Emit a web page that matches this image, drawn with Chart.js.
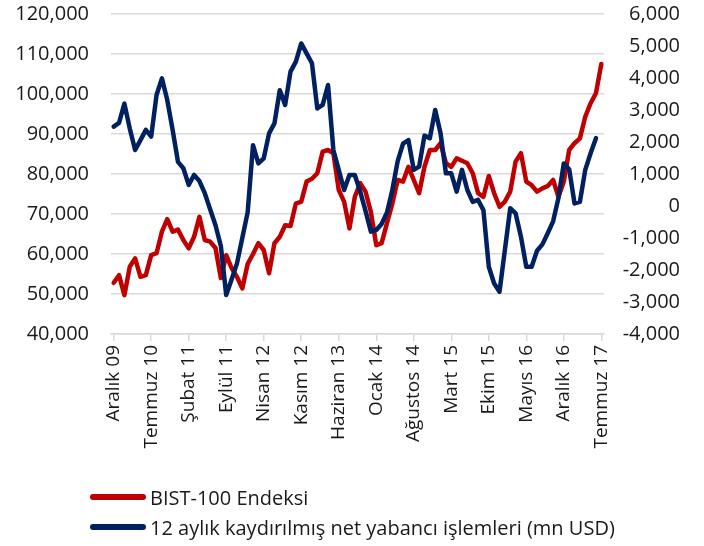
<!DOCTYPE html>
<html>
<head>
<meta charset="utf-8">
<script src="https://cdn.jsdelivr.net/npm/chart.js@4.4.1/dist/chart.umd.min.js"></script>
<style>
  html, body { margin: 0; padding: 0; background: #fff; }
  #wrap { position: relative; width: 704px; height: 546px; }
  #legend { position: absolute; left: 90px; top: 482px; font-family: 'Open Sans', sans-serif; font-size: 20px; color: #1a1a1a; }
  .item { display: flex; align-items: center; height: 30px; white-space: nowrap; }
  .swatch { width: 56px; height: 6px; border-radius: 3px; margin-right: 4px; }
</style>
</head>
<body>
<div id="wrap">
  <canvas id="chart" width="704" height="546"></canvas>
  <div id="legend"></div>
</div>
<script>
// Months, Dec 2009 - Jul 2017
const months = [
    'Aralık 09',
    'Ocak 10', 'Şubat 10', 'Mart 10', 'Nisan 10', 'Mayıs 10', 'Haziran 10', 'Temmuz 10', 'Ağustos 10', 'Eylül 10', 'Ekim 10', 'Kasım 10', 'Aralık 10',
    'Ocak 11', 'Şubat 11', 'Mart 11', 'Nisan 11', 'Mayıs 11', 'Haziran 11', 'Temmuz 11', 'Ağustos 11', 'Eylül 11', 'Ekim 11', 'Kasım 11', 'Aralık 11',
    'Ocak 12', 'Şubat 12', 'Mart 12', 'Nisan 12', 'Mayıs 12', 'Haziran 12', 'Temmuz 12', 'Ağustos 12', 'Eylül 12', 'Ekim 12', 'Kasım 12', 'Aralık 12',
    'Ocak 13', 'Şubat 13', 'Mart 13', 'Nisan 13', 'Mayıs 13', 'Haziran 13', 'Temmuz 13', 'Ağustos 13', 'Eylül 13', 'Ekim 13', 'Kasım 13', 'Aralık 13',
    'Ocak 14', 'Şubat 14', 'Mart 14', 'Nisan 14', 'Mayıs 14', 'Haziran 14', 'Temmuz 14', 'Ağustos 14', 'Eylül 14', 'Ekim 14', 'Kasım 14', 'Aralık 14',
    'Ocak 15', 'Şubat 15', 'Mart 15', 'Nisan 15', 'Mayıs 15', 'Haziran 15', 'Temmuz 15', 'Ağustos 15', 'Eylül 15', 'Ekim 15', 'Kasım 15', 'Aralık 15',
    'Ocak 16', 'Şubat 16', 'Mart 16', 'Nisan 16', 'Mayıs 16', 'Haziran 16', 'Temmuz 16', 'Ağustos 16', 'Eylül 16', 'Ekim 16', 'Kasım 16', 'Aralık 16',
    'Ocak 17', 'Şubat 17', 'Mart 17', 'Nisan 17', 'Mayıs 17', 'Haziran 17', 'Temmuz 17'
];

// BIST-100 index (left axis)
const bist100 = [
    52800, 54700, 49700, 56800, 58900, 54300, 54700, 59700, 60200, 65600,
    68700, 65600, 66100, 63500, 61400, 64300, 69300, 63500, 63100, 61500,
    54000, 59700, 56500, 54300, 51400, 57500, 60000, 62700, 61000, 55200,
    62700, 64300, 67200, 67000, 72600, 73100, 78100, 78800, 80200, 85600,
    86000, 85200, 76000, 73100, 66400, 74300, 77700, 75600, 70500, 62200,
    62700, 67700, 72600, 78500, 78100, 81800, 78500, 75200, 81800, 86000,
    86000, 87700, 82700, 81800, 83900, 83300, 82700, 80200, 75200, 74300,
    79500, 75200, 71800, 73100, 75600, 83100, 85200, 78100, 77200, 75600,
    76400, 77000, 78500, 74300, 78100, 86000, 87700, 88900, 94300, 97700,
    100200, 107500
];

// 12-month rolling net foreign flows, mn USD (right axis)
const foreignFlows = [
    2480, 2600, 3200, 2420, 1750, 2060, 2380, 2170, 3470, 3990,
    3310, 2380, 1380, 1180, 660, 970, 780, 400, -100, -600,
    -1250, -2780, -2300, -1800, -1000, -200, 1900, 1330, 1490, 2270,
    2580, 3620, 3160, 4200, 4510, 5080, 4770, 4460, 3050, 3160,
    3780, 1750, 1130, 500, 970, 970, 450, -150, -800, -750,
    -560, -200, 500, 1400, 1950, 2060, 1130, 1230, 2200, 2120,
    3000, 2270, 1020, 1020, 450, 1130, 500, 130, 190, -130,
    -1900, -2420, -2680, -1380, -70, -230, -960, -1900, -1900, -1400,
    -1200, -850, -480, 250, 1330, 1150, 80, 130, 1130, 1650,
    2120, null
];

const seriesNames = ['BIST-100 Endeksi', '12 aylık kaydırılmış net yabancı işlemleri (mn USD)'];
const seriesColors = ['#C00000', '#002060'];

const font = "'Open Sans', sans-serif";
const textColor = '#1a1a1a';
const gridColor = '#d9d9d9';

new Chart(document.getElementById('chart').getContext('2d'), {
    type: 'line',
    data: {
        labels: months,
        datasets: [
            {
                label: seriesNames[0],
                data: bist100,
                borderColor: seriesColors[0],
                backgroundColor: seriesColors[0],
                yAxisID: 'y',
                order: 2,
            },
            {
                label: seriesNames[1],
                data: foreignFlows,
                borderColor: seriesColors[1],
                backgroundColor: seriesColors[1],
                yAxisID: 'y1',
                order: 1,
            },
        ],
    },
    options: {
        responsive: false,
        animation: false,
        devicePixelRatio: 1,
        layout: { padding: { top: 14, left: 0, right: 24, bottom: 0 } },
        elements: {
            line: { borderWidth: 4.5, tension: 0, borderJoinStyle: 'round', borderCapStyle: 'round', fill: false },
            point: { radius: 0, hoverRadius: 0 },
        },
        plugins: {
            legend: { display: false },
            tooltip: { enabled: false },
        },
        scales: {
            x: {
                type: 'category',
                offset: true,
                grid: { drawOnChartArea: false, drawTicks: true, tickLength: 7, color: gridColor, lineWidth: 1.5, offset: false },
                border: { color: gridColor, width: 1.5 },
                ticks: {
                    autoSkip: false,
                    minRotation: 90,
                    maxRotation: 90,
                    padding: 4,
                    color: textColor,
                    font: { family: font, size: 19 },
                    callback: function(value, index) {
                        // only every 7th month gets a label
                        return index % 7 === 0 ? months[index] : null;
                    },
                },
                afterFit: function(scale) { scale.height = 212; },
            },
            y: {
                position: 'left',
                min: 40000,
                max: 120000,
                // invisible tick marks give the gap between labels and plot
                grid: { color: gridColor, lineWidth: 1.5, drawTicks: true, tickLength: 22, tickColor: 'rgba(0,0,0,0)' },
                border: { display: false },
                ticks: {
                    stepSize: 10000,
                    padding: 0,
                    color: textColor,
                    font: { family: font, size: 20 },
                    callback: (v) => v.toLocaleString('en-US'),
                },
                afterFit: function(scale) { scale.width = 111; },
            },
            y1: {
                position: 'right',
                min: -4000,
                max: 6000,
                grid: { drawOnChartArea: false, drawTicks: true, tickLength: 12, tickColor: 'rgba(0,0,0,0)' },
                border: { display: false },
                ticks: {
                    stepSize: 1000,
                    padding: 0,
                    crossAlign: 'far', // right-aligned at the axis' outer edge
                    color: textColor,
                    font: { family: font, size: 20 },
                    callback: (v) => v.toLocaleString('en-US'),
                },
                afterFit: function(scale) { scale.width = 76; },
            },
        },
    },
});

// legend, two rows like the original
const legend = document.getElementById('legend');
seriesNames.forEach((name, i) => {
    const row = document.createElement('div');
    row.className = 'item';
    const sw = document.createElement('span');
    sw.className = 'swatch';
    sw.style.background = seriesColors[i];
    const txt = document.createElement('span');
    txt.textContent = name;
    row.appendChild(sw);
    row.appendChild(txt);
    legend.appendChild(row);
});
</script>
</body>
</html>
